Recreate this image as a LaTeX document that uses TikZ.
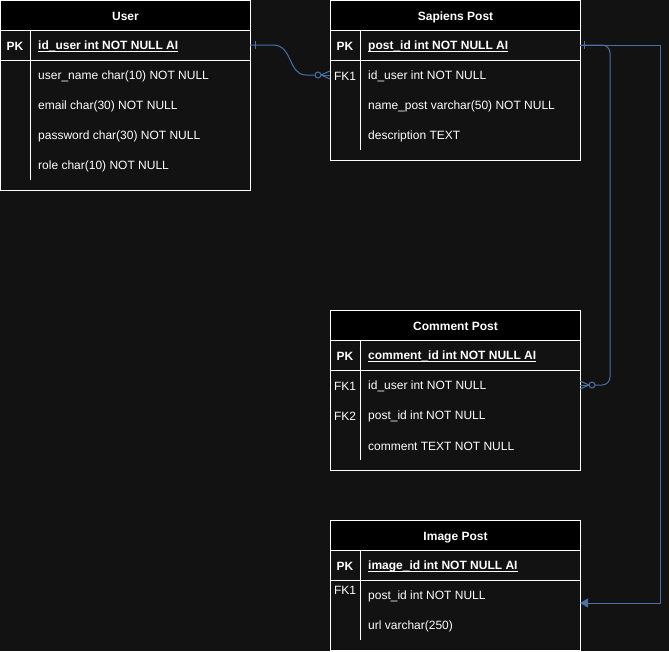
\documentclass[tikz,border=0pt]{standalone}
\usepackage{fontspec}
\setmainfont{Liberation Sans}
\usetikzlibrary{arrows.meta}
\definecolor{bg}{HTML}{121212}
\definecolor{edgec}{HTML}{4C6FA6}
\newcommand\pkul[1]{\setbox0\hbox{#1}\rlap{\rule[-2.4pt]{\wd0}{0.9pt}}\box0}
\begin{document}
\begin{tikzpicture}[x=1pt,y=-1pt,
  tbl/.style={draw=white,line width=1pt,fill=bg,anchor=north west,inner sep=0pt,minimum width=250pt},
  hdr/.style={draw=white,line width=1pt,fill=black,anchor=north west,minimum width=250pt,minimum height=30pt,inner sep=0pt,text height=10.8pt,text depth=0pt,text=white,font=\fontsize{12}{14}\selectfont\bfseries},
  keyt/.style={text=white,inner sep=0pt,anchor=center,yshift=-1pt,font=\fontsize{12}{14}\selectfont},
  pkkey/.style={keyt,font=\fontsize{12}{14}\selectfont\bfseries},
  field/.style={text=white,inner sep=0pt,anchor=west,yshift=-1pt,font=\fontsize{12}{14}\selectfont},
  pkfield/.style={field,font=\fontsize{12}{14}\selectfont\bfseries},
  divider/.style={draw=white,line width=1pt},
  rel/.style={draw=edgec,line width=1pt}
]
\fill[bg] (0,0) rectangle (669,651);
\useasboundingbox (0,0) rectangle (669,651);

% ---------- User ----------
\begin{scope}[shift={(0,0)}]
  \node[tbl,minimum height=190pt] (user) at (0,0) {};
  \node[hdr] (userH) at (0,0) {User};
  \draw[divider] (0,60) -- (250,60);
  \draw[divider] (30,30) -- (30,180);
  \node[pkkey] (userK0) at (15,45) {PK};
  \node[pkfield] (userF0) at (38,45) {\pkul{id\_user int NOT NULL AI}};
  \node[field] (userF1) at (38,75) {user\_name char(10) NOT NULL};
  \node[field] (userF2) at (38,105) {email char(30) NOT NULL};
  \node[field] (userF3) at (38,135) {password char(30) NOT NULL};
  \node[field] (userF4) at (38,165) {role char(10) NOT NULL};
  \coordinate (userPKr) at (250,45);
\end{scope}

% ---------- Sapiens Post ----------
\begin{scope}[shift={(330,0)}]
  \node[tbl,minimum height=160pt] (sap) at (0,0) {};
  \node[hdr] (sapH) at (0,0) {Sapiens Post};
  \draw[divider] (0,60) -- (250,60);
  \draw[divider] (30,30) -- (30,150);
  \node[pkkey] (sapK0) at (15,45) {PK};
  \node[pkfield] (sapF0) at (38,45) {\pkul{post\_id int NOT NULL AI}};
  \node[keyt] (sapK1) at (15,75) {FK1};
  \node[field] (sapF1) at (38,75) {id\_user int NOT NULL};
  \node[field] (sapF2) at (38,105) {name\_post varchar(50) NOT NULL};
  \node[field] (sapF3) at (38,135) {description TEXT};
  \coordinate (sapPKr) at (250,45);
  \coordinate (sapFK1l) at (0,75);
\end{scope}

% ---------- Comment Post ----------
\begin{scope}[shift={(330,310)}]
  \node[tbl,minimum height=160pt] (com) at (0,0) {};
  \node[hdr] (comH) at (0,0) {Comment Post};
  \draw[divider] (0,60) -- (250,60);
  \draw[divider] (30,30) -- (30,150);
  \node[pkkey] (comK0) at (15,45) {PK};
  \node[pkfield] (comF0) at (38,45) {\pkul{comment\_id int NOT NULL AI}};
  \node[keyt] (comK1) at (15,75) {FK1};
  \node[field] (comF1) at (38,75) {id\_user int NOT NULL};
  \node[keyt] (comK2) at (15,105) {FK2};
  \node[field] (comF2) at (38,105) {post\_id int NOT NULL};
  \node[field] (comF3) at (38,135) {comment TEXT NOT NULL};
  \coordinate (comFK1r) at (250,75);
\end{scope}

% ---------- Image Post ----------
\begin{scope}[shift={(330,520)}]
  \node[tbl,minimum height=130pt] (img) at (0,0) {};
  \node[hdr] (imgH) at (0,0) {Image Post};
  \draw[divider] (0,60) -- (250,60);
  \draw[divider] (30,30) -- (30,120);
  \node[pkkey] (imgK0) at (15,45) {PK};
  \node[pkfield] (imgF0) at (38,45) {\pkul{image\_id int NOT NULL AI}};
  \node[keyt] (imgK1) at (15,69) {FK1};
  \node[field] (imgF1) at (38,75) {post\_id int NOT NULL};
  \node[field] (imgF2) at (38,105) {url varchar(250)};
  \coordinate (imgFK1r) at (250,83);
\end{scope}

% ---------- Relations ----------
% User -> Sapiens Post (one to zero-or-many)
\draw[rel] (userPKr) -- ++(23,0) .. controls (293,45) and (288,75) .. (306,75) -- ++(9,0);
\draw[rel] (255,41) -- (255,49);
\draw[rel] (318,75) circle (3);
\draw[rel] (321,75) -- (sapFK1l);
\draw[rel] (321,75) -- (330,71);
\draw[rel] (321,75) -- (330,79);

% Sapiens Post -> Comment Post (one to zero-or-many)
\draw[rel,rounded corners=8pt] (sapPKr) -- (610,45) -- (610,385) -- (595,385);
\draw[rel] (584,41) -- (584,49);
\draw[rel] (592,385) circle (3);
\draw[rel] (589,385) -- (comFK1r);
\draw[rel] (589,385) -- (580,381);
\draw[rel] (589,385) -- (580,389);

% Sapiens Post -> Image Post (arrow)
\draw[rel,-{Triangle[length=8pt,width=9pt]}] (sapPKr) -- (660,45) -- (660,603) -- (imgFK1r);
\end{tikzpicture}
\end{document}
